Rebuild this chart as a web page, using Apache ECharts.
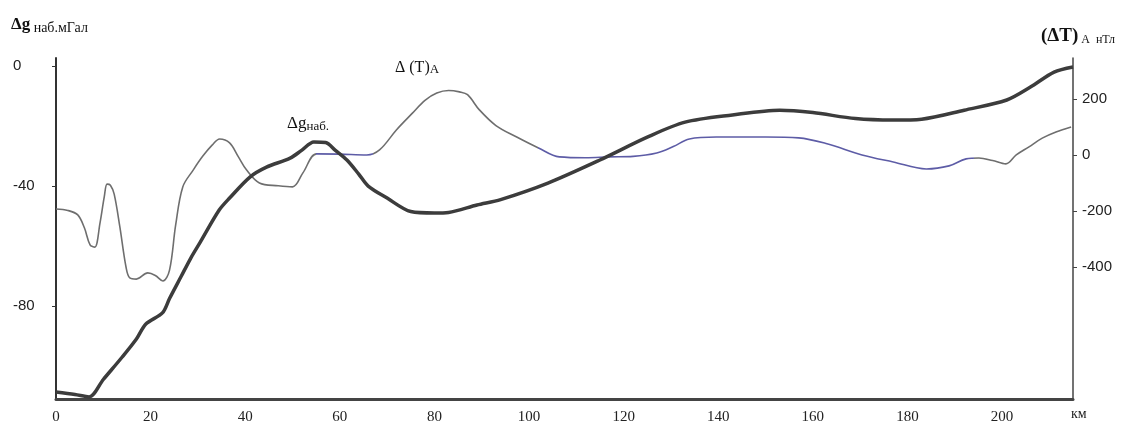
<!DOCTYPE html>
<html>
<head>
<meta charset="utf-8">
<script src="https://cdn.jsdelivr.net/npm/echarts@6/dist/echarts.min.js"></script>
<style>
  html, body { margin: 0; padding: 0; background: #fff; }
  #chart { width: 1132px; height: 434px; }
</style>
</head>
<body>
<div id="chart"></div>
<script>
// Δg наб. (мГал), left axis
const gravKm = [0, 4, 7, 10, 14, 17, 19, 22.5, 24, 26.5, 28.5, 30.5, 34.5, 36.7, 41, 44.5, 49.5, 52, 54.5, 57, 59, 61.5, 64, 66, 70, 75, 80, 83, 89, 94, 104, 115, 125, 133, 143, 153, 160, 169, 177, 183, 192, 201, 206, 211, 215]
const gravVals = [-108.7, -109.5, -110.3, -104.5, -97, -91, -86, -82.3, -77.5, -70, -64, -58.7, -48, -44, -37, -33.7, -30.7, -28, -25.3, -25.5, -28, -31.3, -36, -40, -44, -48.5, -49, -48.8, -46.3, -44.5, -39, -31.3, -23.7, -18.7, -16.3, -14.7, -15.5, -17.5, -18, -17.7, -14.7, -11.3, -7, -2, -0.3]

// (ΔT)A (нТл), right axis
const magKm = [0, 2.5, 4.6, 6, 7.2, 8.2, 9.3, 10.2, 10.8, 11.5, 12.3, 13.5, 14.8, 15.6, 17, 19.4, 21, 22.6, 24, 25.3, 26.8, 29, 31, 33, 34.6, 36.7, 38.5, 40.3, 43, 47, 50, 52.2, 55.1, 60, 65.7, 68.4, 72, 75.4, 78, 80.5, 83, 85.3, 87, 89.5, 93, 97.4, 102, 106.4, 112, 117, 122, 127, 130.5, 133.9, 139.6, 150, 157, 163, 170.4, 177, 184, 188.8, 192.4, 195.1, 198, 200.8, 203, 205.7, 208.5, 211.4, 214.6]
const magVals = [-193, -198, -214, -260, -321, -329, -243, -150, -104, -108, -140, -257, -400, -439, -443, -421, -430, -450, -411, -250, -114, -54, -5, 35, 57, 43, -5, -54, -100, -110, -114, -64, 4, 3, 0, 18, 90, 150, 195, 221, 230, 225, 215, 161, 105, 64, 25, -7, -10, -7, -5, 7, 30, 57, 64, 64, 61, 40, 0, -25, -50, -39, -14, -11, -20, -32, 0, 29, 60, 82, 100]

const xTicks = [0, 20, 40, 60, 80, 100, 120, 140, 160, 180, 200]
const leftTicks = [0, -40, -80]
const rightTicks = [200, 0, -200, -400]

const chart = echarts.init(document.getElementById('chart'))

const serif = 'Liberation Serif'
const sans = 'Liberation Sans'

const option = {
  animation: false,
  grid: { left: 56, right: 59, top: 58, bottom: 35 },
  xAxis: {
    type: 'value',
    min: 0,
    max: 215,
    interval: 20,
    splitLine: { show: false },
    axisTick: { show: false },
    axisLine: { onZero: false, lineStyle: { color: '#444', width: 3 } },
    axisLabel: {
      customValues: xTicks,
      fontFamily: serif,
      fontSize: 15,
      color: '#222',
      margin: 11
    }
  },
  yAxis: [
    {
      type: 'value',
      min: -111,
      max: 2.7,
      splitLine: { show: false },
      axisLine: { show: true, lineStyle: { color: '#333', width: 2 } },
      axisTick: { show: true, customValues: leftTicks, length: 4, lineStyle: { color: '#333' } },
      axisLabel: {
        customValues: leftTicks,
        fontFamily: sans,
        fontSize: 15,
        color: '#222',
        align: 'left',
        margin: 43
      }
    },
    {
      type: 'value',
      position: 'right',
      min: -871,
      max: 346,
      splitLine: { show: false },
      axisLine: { show: true, lineStyle: { color: '#444', width: 1.5 } },
      axisTick: { show: true, customValues: rightTicks, length: 4, lineStyle: { color: '#444' } },
      axisLabel: {
        customValues: rightTicks,
        fontFamily: sans,
        fontSize: 15,
        color: '#222',
        align: 'left',
        margin: 9
      }
    }
  ],
  visualMap: {
    show: false,
    type: 'piecewise',
    seriesIndex: 1,
    dimension: 0,
    pieces: [
      { lt: 55, color: '#6e6e6e' },
      { gte: 55, lt: 67, color: '#5d5ca6' },
      { gte: 67, lt: 102, color: '#6e6e6e' },
      { gte: 102, lt: 194, color: '#5d5ca6' },
      { gte: 194, color: '#6e6e6e' }
    ]
  },
  series: [
    {
      name: 'Δg наб.',
      type: 'line',
      yAxisIndex: 0,
      smooth: 0.3,
      showSymbol: false,
      lineStyle: { color: '#3c3c3c', width: 3.5 },
      data: gravKm.map((k, i) => [k, gravVals[i]]),
      z: 3
    },
    {
      name: '(ΔT)A',
      type: 'line',
      yAxisIndex: 1,
      smooth: 0.35,
      showSymbol: false,
      lineStyle: { width: 1.6 },
      data: magKm.map((k, i) => [k, magVals[i]]),
      z: 2
    }
  ],
  graphic: [
    {
      type: 'text', left: 11, top: 16,
      style: {
        text: '{a|Δg}{b| наб.мГал}',
        rich: {
          a: { fontFamily: serif, fontSize: 17, fontWeight: 'bold', fill: '#111' },
          b: { fontFamily: serif, fontSize: 14, fill: '#111', padding: [8, 0, 0, 0] }
        }
      }
    },
    {
      type: 'text', left: 1041, top: 27,
      style: {
        text: '{a|(ΔT)}{b| A  нТл}',
        rich: {
          a: { fontFamily: serif, fontSize: 19, fontWeight: 'bold', fill: '#111' },
          b: { fontFamily: serif, fontSize: 12, fill: '#111', padding: [7, 0, 0, 0] }
        }
      }
    },
    {
      type: 'text', left: 395, top: 60,
      style: {
        text: '{a|Δ (T)}{b|A}',
        rich: {
          a: { fontFamily: serif, fontSize: 16, fill: '#111' },
          b: { fontFamily: serif, fontSize: 13, fill: '#111', padding: [4, 0, 0, 0] }
        }
      }
    },
    {
      type: 'text', left: 287, top: 115,
      style: {
        text: '{a|Δg}{b|наб.}',
        rich: {
          a: { fontFamily: serif, fontSize: 17, fill: '#111' },
          b: { fontFamily: serif, fontSize: 13, fill: '#111', padding: [7, 0, 0, 0] }
        }
      }
    },
    {
      type: 'text', left: 1071, top: 407,
      style: { text: 'км', fontFamily: serif, fontSize: 14, fill: '#222' }
    }
  ]
}

chart.setOption(option)
</script>
</body>
</html>
